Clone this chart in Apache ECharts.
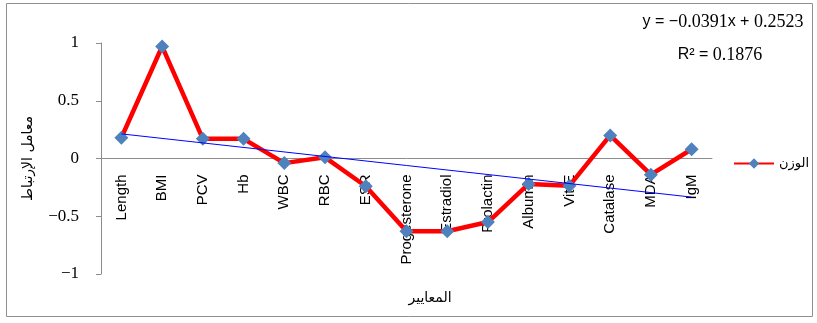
<!DOCTYPE html>
<html><head><meta charset="utf-8">
<script src="https://cdn.jsdelivr.net/npm/echarts@6/dist/echarts.min.js"></script>
<style>html,body{margin:0;padding:0;background:#fff}#c{width:817px;height:323px}</style>
</head><body><div id="c"></div>
<script>
const categories = ['Length','BMI','PCV','Hb','WBC','RBC','ESR','Progesterone','Estradiol','Prolactin','Albumin','Vit-E','Catalase','MDA','IgM'];
const weightValues = [0.18,0.97,0.17,0.17,-0.04,0.01,-0.24,-0.63,-0.63,-0.55,-0.22,-0.235,0.20,-0.14,0.08];
const trendValues = [0.2132,null,null,null,null,null,null,null,null,null,null,null,null,null,-0.3342];
const yTicks = [-1,-0.5,0,0.5,1];
const seriesName = 'الوزن';
const yTitle = 'معامل الإرتباط';
const xTitle = 'المعايير';
const eqSlope = '0.0391', eqIntercept = '0.2523', r2Value = '0.1876';

const gridTop = 43, gridBottom = 49, chartH = 323;
const plotH = chartH - gridTop - gridBottom;
const zeroOffset = -plotH * (0 - (-1)) / 2; // place category axis at y = 0

const SANS = '16px "Liberation Sans"', SERIF = '18px "Liberation Serif"';
const ctx = document.createElement('canvas').getContext('2d');
function mixedText(parts, cx, cy){
  const widths = parts.map(p=>{ctx.font=p[1]; return ctx.measureText(p[0]).width;});
  const total = widths.reduce((a,b)=>a+b,0);
  let x = cx - total/2;
  return parts.map((p,i)=>{
    const el = {type:'text',x:x,y:cy,style:{text:p[0],font:p[1],fill:'#000',align:'left',verticalAlign:'middle'}};
    x += widths[i];
    return el;
  });
}
const eqParts = [['y = −',SANS],[eqSlope,SERIF],['x + ',SANS],[eqIntercept,SERIF]];
const r2Parts = [['R² = ',SANS],[r2Value,SERIF]];

const chart = echarts.init(document.getElementById('c'));
chart.setOption({
  animation:false,
  grid:{left:101,right:105,top:gridTop,bottom:gridBottom,containLabel:false,outerBoundsMode:'none'},
  legend:{data:[seriesName],left:728,top:152,itemWidth:40,itemHeight:13,itemGap:4,
    textStyle:{fontFamily:'DejaVu Sans',fontSize:13,color:'#000'}},
  xAxis:{type:'category',data:categories,boundaryGap:true,position:'bottom',offset:zeroOffset,
    axisLine:{onZero:false,lineStyle:{color:'#8c8c8c',width:1}},
    axisTick:{show:false},
    axisLabel:{rotate:90,margin:16,fontFamily:'Liberation Sans',fontSize:15,color:'#000',interval:0}},
  yAxis:{type:'value',min:-1,max:1,interval:0.5,
    splitLine:{show:false},
    axisLine:{show:true,lineStyle:{color:'#8c8c8c'}},
    axisTick:{show:true,length:5,lineStyle:{color:'#8c8c8c'}},
    axisLabel:{fontFamily:'Liberation Serif',fontSize:17,color:'#000',margin:22,
      formatter:v=>yTicks.includes(v)?String(v).replace('-','−'):''},
    name:yTitle,nameLocation:'middle',nameRotate:90,nameGap:66,
    nameTextStyle:{fontFamily:'DejaVu Sans',fontSize:14,color:'#000'}},
  graphic:[
    {type:'rect',shape:{x:6.5,y:3.5,width:806,height:313},style:{fill:'none',stroke:'#8f8f8f',lineWidth:1},silent:true,z:-1},
    {type:'text',x:430,y:298,style:{text:xTitle,font:'14px "DejaVu Sans"',fill:'#000',align:'center',verticalAlign:'middle'}}
  ].concat(mixedText(eqParts,723,22)).concat(mixedText(r2Parts,720,55)),
  series:[
    {name:seriesName,type:'line',data:weightValues,symbol:'diamond',symbolSize:14,
      lineStyle:{color:'#ff0000',width:4.5},itemStyle:{color:'#4f81bd'},z:3},
    {name:'trend',type:'line',data:trendValues,connectNulls:true,symbol:'none',
      lineStyle:{color:'#0000ff',width:1},z:4}
  ]
});
</script></body></html>
